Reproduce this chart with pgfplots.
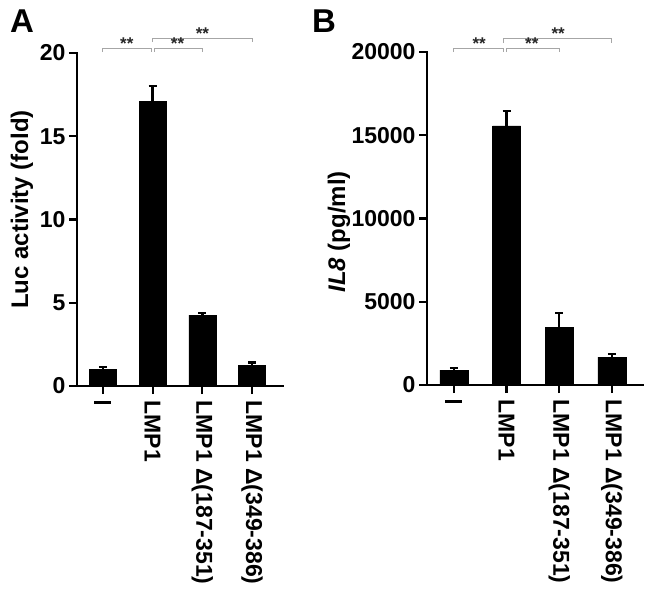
\documentclass[border=0pt]{standalone}
\usepackage{pgfplots}
\pgfplotsset{compat=1.18}
\usepackage{fontspec}
\setmainfont{Liberation Sans}

\pgfplotsset{
  panel/.style={
    scale only axis,
    anchor=south west,
    height=333pt,
    ymin=0,
    axis lines*=left,
    axis line style={line width=2.4pt, line cap=rect},
    tick style={line width=2.2pt, black},
    major tick length=8pt,
    tick align=outside,
    xtick={0,1,2,3},
    xticklabels={{\rule{3pt}{17pt}},LMP1,{LMP1 Δ(187-351)},{LMP1 Δ(349-386)}},
    xticklabel style={rotate=-90, anchor=west, xshift=3pt, font=\fontsize{23}{24}\selectfont\bfseries},
    yticklabel style={font=\fontsize{23}{24}\selectfont\bfseries},
    label style={font=\fontsize{24}{26}\selectfont\bfseries},
    /pgf/number format/assume math mode=true,
    /pgf/number format/1000 sep={},
    scaled y ticks=false,
    clip=false,
  },
  bars/.style={
    ybar, fill=black, draw=black,
    error bars/.cd, y dir=plus, y explicit,
    error bar style={line width=2.4pt, black},
    error mark options={line width=2.4pt, mark size=4pt, black, rotate=90},
  },
}
\tikzset{
  sig/.style={gray!70, line width=1pt},
  stars/.style={font=\fontsize{17}{17}\selectfont\bfseries, text=black!85, inner sep=0pt},
}

\begin{document}
\begin{tikzpicture}
\useasboundingbox (-77pt,-219pt) rectangle (569pt,386pt);

% Panel A
\begin{axis}[panel,
  at={(0pt,0pt)},
  width=206pt,
  xmin=-0.52, xmax=3.62,
  ymax=20, ytick={0,5,10,15,20},
  ylabel={Luc activity (fold)},
  ylabel style={at={(rel axis cs:0,0.53)}, anchor=center, yshift=55pt},
  bar width=27pt,
]
\addplot[bars] coordinates {
  (0,1.02)  +- (0,0.13)
  (1,17.1)  +- (0,0.9)
  (2,4.26)  +- (0,0.14)
  (3,1.26)  +- (0,0.16)
};
\draw[line width=2.4pt] (rel axis cs:0,0) -- ++(-8pt,0);
\draw[sig] (axis cs:0,20.06) -- (axis cs:0,20.3) -- (axis cs:0.97,20.3) -- (axis cs:0.97,20.06);
\draw[sig] (axis cs:1.03,20.06) -- (axis cs:1.03,20.3) -- (axis cs:2,20.3) -- (axis cs:2,20.06);
\draw[sig] (axis cs:1,20.66) -- (axis cs:1,20.9) -- (axis cs:3,20.9) -- (axis cs:3,20.66);
\node[stars] at (axis cs:0.48,20.55) {**};
\node[stars] at (axis cs:1.5,20.55) {**};
\node[stars] at (axis cs:2.0,21.15) {**};
\end{axis}

% Panel B
\begin{axis}[panel,
  at={(350pt,1pt)},
  width=216pt,
  xmin=-0.51, xmax=3.59,
  ymax=20000, ytick={0,5000,10000,15000,20000},
  ylabel={{\itshape IL8} (pg/ml)},
  ylabel style={at={(rel axis cs:0,0.46)}, anchor=center, yshift=88pt},
  bar width=28pt,
]
\addplot[bars] coordinates {
  (0,900)    +- (0,120)
  (1,15560)  +- (0,900)
  (2,3480)   +- (0,840)
  (3,1680)   +- (0,180)
};
\draw[line width=2.4pt] (rel axis cs:0,0) -- ++(-8pt,0);
\draw[sig] (axis cs:0,20000) -- (axis cs:0,20240) -- (axis cs:0.95,20240) -- (axis cs:0.95,20000);
\draw[sig] (axis cs:1,20000) -- (axis cs:1,20240) -- (axis cs:2,20240) -- (axis cs:2,20000);
\draw[sig] (axis cs:0.95,20540) -- (axis cs:0.95,20840) -- (axis cs:3,20840) -- (axis cs:3,20540);
\node[stars] at (axis cs:0.48,20500) {**};
\node[stars] at (axis cs:1.48,20500) {**};
\node[stars] at (axis cs:1.98,21100) {**};
\end{axis}

\node[font=\fontsize{33}{33}\selectfont\bfseries] at (-55pt,365pt) {A};
\node[font=\fontsize{33}{33}\selectfont\bfseries] at (247pt,365pt) {B};
\end{tikzpicture}
\end{document}
